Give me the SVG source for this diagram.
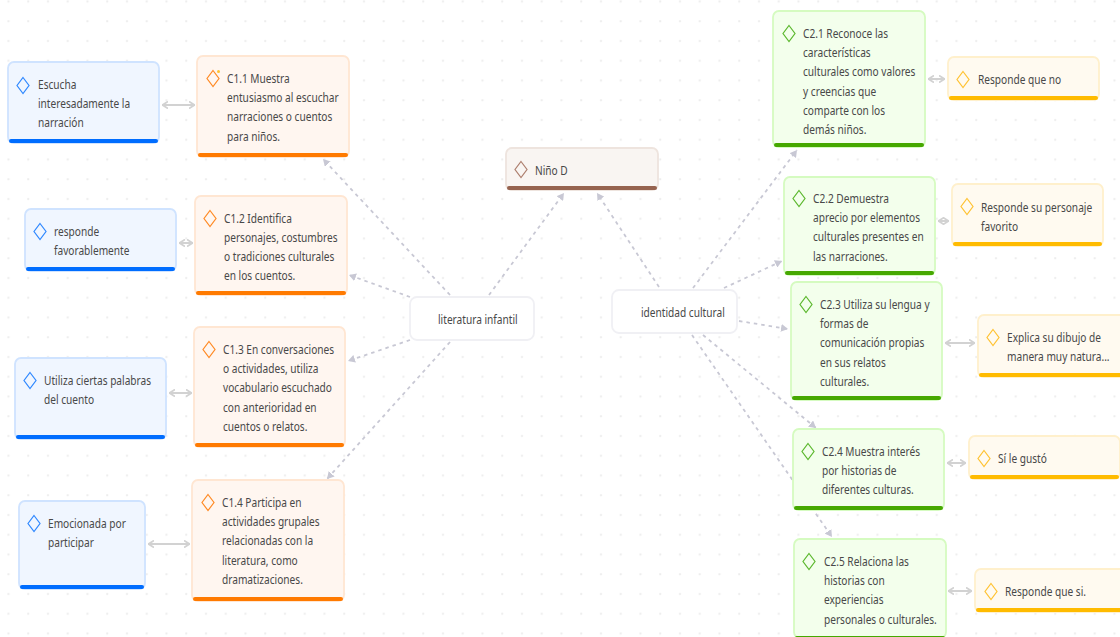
<svg xmlns="http://www.w3.org/2000/svg" width="1120" height="637" viewBox="0 0 1120 637">
<style>
.t{font-family:"Noto Sans","Liberation Sans",sans-serif;font-size:13px;fill:#484848}
.box{stroke-width:1.800}
.d{fill:none;stroke-width:1.200}
.o .box{fill:#fff6f0;stroke:#ffe6d2}.o .bar{fill:#ff7a00}.o .d{stroke:#ff8a24}
.b .box{fill:#f0f6ff;stroke:#cfe3ff}.b .bar{fill:#006dff}.b .d{stroke:#2f88ff}
.g .box{fill:#f3ffec;stroke:#d5fbc0}.g .bar{fill:#46a800}.g .d{stroke:#5cb82e}
.y .box{fill:#fffaf0;stroke:#fff0cc}.y .bar{fill:#ffbb00}.y .d{stroke:#ffc233}
.n .box{fill:#f9f5f2;stroke:#eee4de}.n .bar{fill:#96634f}.n .d{stroke:#ad7f6e}
.w .box{fill:#fff;stroke:#f0f0f4}
.dash{fill:none;stroke:#c8c8d4;stroke-width:1.800;stroke-dasharray:3.500 4;marker-end:url(#a)}
.link{fill:none;stroke:#d2d2d2;stroke-width:2;marker-start:url(#s);marker-end:url(#e)}
</style>
<defs>
<pattern id="dots" width="19.75" height="19.75" patternUnits="userSpaceOnUse" x="-1.5" y="-8.5"><rect x="9" y="9" width="2" height="2" fill="#ededed"/></pattern>
<marker id="a" viewBox="0 0 8 8" refX="7" refY="4" markerWidth="8" markerHeight="8" markerUnits="userSpaceOnUse" orient="auto"><path d="M0 0L7 4L0 8Z" fill="#c8c8d4"/></marker>
<marker id="e" viewBox="0 0 6 8" refX="6" refY="4" markerWidth="6" markerHeight="8" markerUnits="userSpaceOnUse" orient="auto"><path d="M0 0.5L5.5 4L0 7.5" fill="none" stroke="#d2d2d2" stroke-width="1.8"/></marker>
<marker id="s" viewBox="0 0 6 8" refX="0" refY="4" markerWidth="6" markerHeight="8" markerUnits="userSpaceOnUse" orient="auto"><path d="M6 0.5L0.5 4L6 7.5" fill="none" stroke="#d2d2d2" stroke-width="1.8"/></marker>
</defs>
<rect width="1120" height="637" fill="#fff"/>
<rect width="1120" height="637" fill="url(#dots)"/>
<g id="connectors">
<path class="dash" d="M489 295L564 193"/>
<path class="dash" d="M659 287L597 193"/>
<path class="dash" d="M450 295L323 159"/>
<path class="dash" d="M410 297L349 275"/>
<path class="dash" d="M410 340L348 361"/>
<path class="dash" d="M450 342L327 479"/>
<path class="dash" d="M693 288L797 150"/>
<path class="dash" d="M724 288L782 261"/>
<path class="dash" d="M739 321L788 329"/>
<path class="dash" d="M703 335L816 428"/>
<path class="dash" d="M692 335L832 537"/>
<path class="link" d="M162 105H195"/>
<path class="link" d="M179 243H193"/>
<path class="link" d="M169 393H192"/>
<path class="link" d="M148 544H190"/>
<path class="link" d="M928 79H945"/>
<path class="link" d="M938 221H949"/>
<path class="link" d="M945 343H975"/>
<path class="link" d="M947 463H966"/>
<path class="link" d="M948 591H972"/>
</g>
<g id="nino-d" class="n"><rect class="box" x="506" y="148" width="152" height="42" rx="6"/><rect class="bar" x="507" y="186" width="150" height="4" rx="2"/><path class="d" d="M521 161.500l6 8-6 8-6-8z"/><text class="t" transform="translate(535 174.500) scale(.78 1)">Niño D</text></g>
<g id="literatura" class="w"><rect class="box" x="410" y="297" width="124" height="43" rx="7"/><text class="t" transform="translate(438 323.500) scale(.78 1)">literatura infantil</text></g>
<g id="identidad" class="w"><rect class="box" x="612" y="290" width="125" height="43" rx="7"/><text class="t" transform="translate(641 316.500) scale(.78 1)">identidad cultural</text></g>
<g id="c11" class="o"><rect class="box" x="197" y="56" width="152" height="101" rx="6"/><rect class="bar" x="198" y="153" width="150" height="4" rx="2"/><path class="d" d="M213 70.500l6 8-6 8-6-8z"/><circle cx="218.500" cy="71.500" r="1.500" fill="#ffc233"/><text class="t" transform="translate(227 82.500) scale(.78 1)"><tspan x="0">C1.1 Muestra</tspan><tspan x="0" dy="19.400">entusiasmo al escuchar</tspan><tspan x="0" dy="19.400">narraciones o cuentos</tspan><tspan x="0" dy="19.400">para niños.</tspan></text></g>
<g id="c12" class="o"><rect class="box" x="195" y="196" width="152" height="99" rx="6"/><rect class="bar" x="196" y="291" width="150" height="4" rx="2"/><path class="d" d="M210 210.500l6 8-6 8-6-8z"/><text class="t" transform="translate(224 222.500) scale(.78 1)"><tspan x="0">C1.2 Identifica</tspan><tspan x="0" dy="19.200">personajes, costumbres</tspan><tspan x="0" dy="19.200">o tradiciones culturales</tspan><tspan x="0" dy="19.200">en los cuentos.</tspan></text></g>
<g id="c13" class="o"><rect class="box" x="194" y="327" width="151" height="120" rx="6"/><rect class="bar" x="195" y="443" width="149" height="4" rx="2"/><path class="d" d="M209 341.500l6 8-6 8-6-8z"/><text class="t" transform="translate(223 353.500) scale(.78 1)"><tspan x="0">C1.3 En conversaciones</tspan><tspan x="0" dy="19.400">o actividades, utiliza</tspan><tspan x="0" dy="19.400">vocabulario escuchado</tspan><tspan x="0" dy="19.400">con anterioridad en</tspan><tspan x="0" dy="19.400">cuentos o relatos.</tspan></text></g>
<g id="c14" class="o"><rect class="box" x="192" y="480" width="152" height="121" rx="6"/><rect class="bar" x="193" y="597" width="150" height="4" rx="2"/><path class="d" d="M208 494.500l6 8-6 8-6-8z"/><text class="t" transform="translate(222 506.500) scale(.78 1)"><tspan x="0">C1.4 Participa en</tspan><tspan x="0" dy="19.500">actividades grupales</tspan><tspan x="0" dy="19.500">relacionadas con la</tspan><tspan x="0" dy="19.500">literatura, como</tspan><tspan x="0" dy="19.500">dramatizaciones.</tspan></text></g>
<g id="escucha" class="b"><rect class="box" x="8" y="62" width="151" height="81" rx="6"/><rect class="bar" x="9" y="139" width="149" height="4" rx="2"/><path class="d" d="M23 77.500l6 8-6 8-6-8z"/><text class="t" transform="translate(38 88.500) scale(.78 1)"><tspan x="0">Escucha</tspan><tspan x="0" dy="19.400">interesadamente la</tspan><tspan x="0" dy="19.400">narración</tspan></text></g>
<g id="responde" class="b"><rect class="box" x="25" y="209" width="151" height="62" rx="6"/><rect class="bar" x="26" y="267" width="149" height="4" rx="2"/><path class="d" d="M40 223.500l6 8-6 8-6-8z"/><text class="t" transform="translate(54 235.500) scale(.78 1)"><tspan x="0">responde</tspan><tspan x="0" dy="19.400">favorablemente</tspan></text></g>
<g id="utiliza" class="b"><rect class="box" x="15" y="358" width="151" height="81" rx="6"/><rect class="bar" x="16" y="435" width="149" height="4" rx="2"/><path class="d" d="M30 372.500l6 8-6 8-6-8z"/><text class="t" transform="translate(44 384.500) scale(.78 1)"><tspan x="0">Utiliza ciertas palabras</tspan><tspan x="0" dy="19.400">del cuento</tspan></text></g>
<g id="emocionada" class="b"><rect class="box" x="19" y="501" width="126" height="88" rx="6"/><rect class="bar" x="20" y="585" width="124" height="4" rx="2"/><path class="d" d="M34 515.500l6 8-6 8-6-8z"/><text class="t" transform="translate(48 527.500) scale(.78 1)"><tspan x="0">Emocionada por</tspan><tspan x="0" dy="19.400">participar</tspan></text></g>
<g id="c21" class="g"><rect class="box" x="773" y="11" width="152" height="136" rx="6"/><rect class="bar" x="774" y="143" width="150" height="4" rx="2"/><path class="d" d="M789 25.500l6 8-6 8-6-8z"/><text class="t" transform="translate(803 37.500) scale(.78 1)"><tspan x="0">C2.1 Reconoce las</tspan><tspan x="0" dy="19.400">características</tspan><tspan x="0" dy="19.400">culturales como valores</tspan><tspan x="0" dy="19.400">y creencias que</tspan><tspan x="0" dy="19.400">comparte con los</tspan><tspan x="0" dy="19.400">demás niños.</tspan></text></g>
<g id="c22" class="g"><rect class="box" x="784" y="177" width="151" height="98" rx="6"/><rect class="bar" x="785" y="271" width="149" height="4" rx="2"/><path class="d" d="M799 190.500l6 8-6 8-6-8z"/><text class="t" transform="translate(813 202.500) scale(.78 1)"><tspan x="0">C2.2 Demuestra</tspan><tspan x="0" dy="19.400">aprecio por elementos</tspan><tspan x="0" dy="19.400">culturales presentes en</tspan><tspan x="0" dy="19.400">las narraciones.</tspan></text></g>
<g id="c23" class="g"><rect class="box" x="791" y="282" width="151" height="118" rx="6"/><rect class="bar" x="792" y="396" width="149" height="4" rx="2"/><path class="d" d="M806 296.500l6 8-6 8-6-8z"/><text class="t" transform="translate(820 308.500) scale(.78 1)"><tspan x="0">C2.3 Utiliza su lengua y</tspan><tspan x="0" dy="19.400">formas de</tspan><tspan x="0" dy="19.400">comunicación propias</tspan><tspan x="0" dy="19.400">en sus relatos</tspan><tspan x="0" dy="19.400">culturales.</tspan></text></g>
<g id="c24" class="g"><rect class="box" x="793" y="429" width="151" height="81" rx="6"/><rect class="bar" x="794" y="506" width="149" height="4" rx="2"/><path class="d" d="M808 443.500l6 8-6 8-6-8z"/><text class="t" transform="translate(822 455.500) scale(.78 1)"><tspan x="0">C2.4 Muestra interés</tspan><tspan x="0" dy="19.400">por historias de</tspan><tspan x="0" dy="19.400">diferentes culturas.</tspan></text></g>
<g id="c25" class="g"><rect class="box" x="794" y="539" width="152" height="99" rx="6"/><rect class="bar" x="795" y="636" width="150" height="4" rx="2"/><path class="d" d="M809 553.500l6 8-6 8-6-8z"/><text class="t" transform="translate(824 565.500) scale(.78 1)"><tspan x="0">C2.5 Relaciona las</tspan><tspan x="0" dy="19.500">historias con</tspan><tspan x="0" dy="19.500">experiencias</tspan><tspan x="0" dy="19.500">personales o culturales.</tspan></text></g>
<g id="r1" class="y"><rect class="box" x="948" y="57" width="151" height="43" rx="6"/><rect class="bar" x="949" y="96" width="149" height="4" rx="2"/><path class="d" d="M963 71.500l6 8-6 8-6-8z"/><text class="t" transform="translate(978 83.500) scale(.78 1)">Responde que no</text></g>
<g id="r2" class="y"><rect class="box" x="952" y="184" width="151" height="62" rx="6"/><rect class="bar" x="953" y="242" width="149" height="4" rx="2"/><path class="d" d="M967 198.500l6 8-6 8-6-8z"/><text class="t" transform="translate(981 211.500) scale(.78 1)"><tspan x="0">Responde su personaje</tspan><tspan x="0" dy="19.400">favorito</tspan></text></g>
<g id="r3" class="y"><rect class="box" x="978" y="315" width="151" height="62" rx="6"/><rect class="bar" x="979" y="373" width="149" height="4" rx="2"/><path class="d" d="M993 329.500l6 8-6 8-6-8z"/><text class="t" transform="translate(1007 341.500) scale(.78 1)"><tspan x="0">Explica su dibujo de</tspan><tspan x="0" dy="19.400">manera muy natura...</tspan></text></g>
<g id="r4" class="y"><rect class="box" x="969" y="436" width="151" height="43" rx="6"/><rect class="bar" x="970" y="475" width="149" height="4" rx="2"/><path class="d" d="M984 450.500l6 8-6 8-6-8z"/><text class="t" transform="translate(998 462.500) scale(.78 1)">Sí le gustó</text></g>
<g id="r5" class="y"><rect class="box" x="975" y="569" width="151" height="43" rx="6"/><rect class="bar" x="976" y="608" width="149" height="4" rx="2"/><path class="d" d="M991 583.500l6 8-6 8-6-8z"/><text class="t" transform="translate(1005 595.500) scale(.78 1)">Responde que si.</text></g>
</svg>
